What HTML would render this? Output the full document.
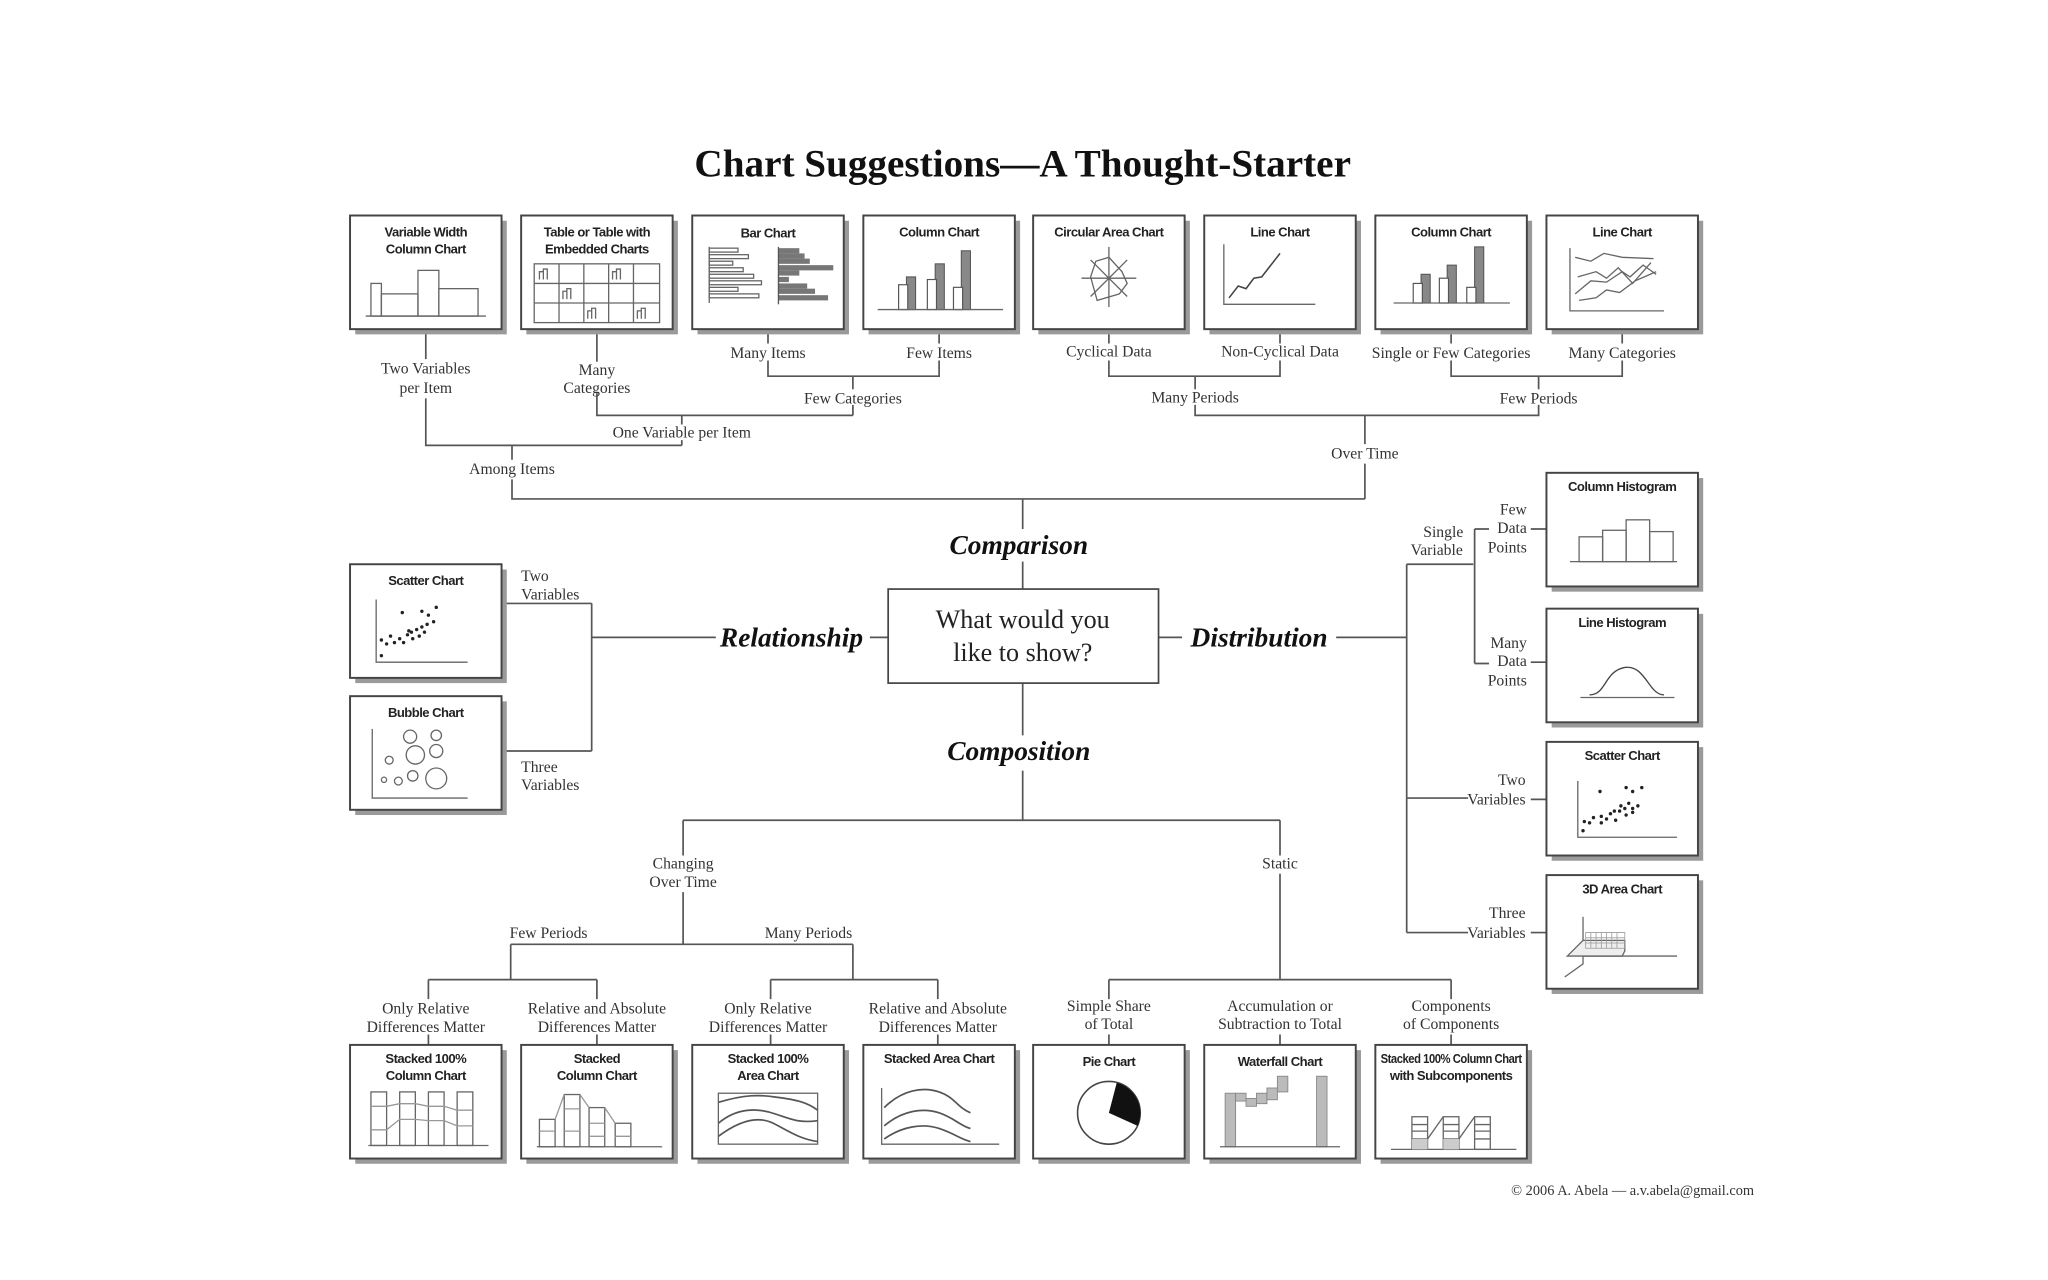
<!DOCTYPE html>
<html><head><meta charset="utf-8"><style>
html,body{margin:0;padding:0;background:#fff;}
svg{display:block;}
.l{stroke:#555;stroke-width:1.3;fill:none;}
.t{font-family:"Liberation Serif",serif;font-size:12px;fill:#333;text-anchor:middle;}
.bt{font-family:"Liberation Sans",sans-serif;font-size:10px;font-weight:bold;fill:#222;text-anchor:middle;letter-spacing:-0.4px;}
.big{font-family:"Liberation Serif",serif;font-size:21px;font-weight:bold;font-style:italic;fill:#111;text-anchor:middle;}
.c{stroke:#666;stroke-width:1;fill:none;}
.g{fill:#888;stroke:#555;stroke-width:0.8;}
.w{fill:#fff;stroke:#555;stroke-width:0.9;}
</style></head><body>
<svg width="2048" height="1280" viewBox="0 0 1568 980" xmlns="http://www.w3.org/2000/svg">
<defs>
<g id="frame"><rect x="4" y="4" width="116" height="87" fill="#9a9a9a"/><rect x="0" y="0" width="116" height="87" fill="#fff" stroke="#444" stroke-width="1.5"/></g>
</defs>
<rect width="1568" height="980" fill="#fff"/>
<text x="783" y="135" font-family="Liberation Serif,serif" font-size="30" font-weight="bold" fill="#111" text-anchor="middle">Chart Suggestions—A Thought-Starter</text>

<!-- connectors top -->
<g class="l">
<path d="M326 252V275M326 305V341H522M522 318V325M522 337V341"/>
<path d="M392 341V352M392 367V382H1045"/>
<path d="M457 252V277M457 301V318H653M653 310V318M653 288V298"/>
<path d="M588 252V263M588 276V288H719V276M719 252V263"/>
<path d="M849 252V263M849 276V288H980V276M980 252V263M915 288V298M915 310V318H1178V310M1178 288V298"/>
<path d="M1111 252V263M1111 276V288H1242V276M1242 252V263"/>
<path d="M1045 318V340M1045 355V382"/>
<path d="M783 382V405M783 430V451"/>
<path d="M783 523V563M783 590V628H523M783 628H980"/>
<path d="M523 628V655M523 683V723H391M523 723H653M391 723V750H328M391 750H457M653 723V750H590M653 750H718"/>
<path d="M980 628V655M980 669V750H849M980 750H1111"/>
<path d="M328 750V765M457 750V765M590 750V765M718 750V765M849 750V765M1111 750V765"/>
<path d="M328 792V800M457 792V800M590 792V800M718 792V800M849 792V800M980 792V800M1111 792V800"/>
<path d="M666 488H680M453 488H548M453 462V575M384 462H453M384 575H453"/>
<path d="M887 488H905M1023 488H1077M1077 432V714M1077 432H1128M1129 405V508M1129 405H1140M1129 508H1140M1172 405H1184M1172 507H1184"/>
<path d="M1077 611H1124M1172 612H1184M1077 714H1124M1172 714H1184"/>
</g>

<!-- labels -->
<g class="t">
<text x="326" y="286">Two Variables</text><text x="326" y="301">per Item</text>
<text x="457" y="287">Many</text><text x="457" y="301">Categories</text>
<text x="588" y="274">Many Items</text><text x="719" y="274">Few Items</text>
<text x="653" y="309">Few Categories</text>
<text x="522" y="335">One Variable per Item</text>
<text x="392" y="363">Among Items</text>
<text x="849" y="273">Cyclical Data</text><text x="980" y="273">Non-Cyclical Data</text>
<text x="1111" y="274">Single or Few Categories</text><text x="1242" y="274">Many Categories</text>
<text x="915" y="308">Many Periods</text><text x="1178" y="309">Few Periods</text>
<text x="1045" y="351">Over Time</text>
<text x="399" y="445" text-anchor="start">Two</text><text x="399" y="459" text-anchor="start">Variables</text>
<text x="399" y="591" text-anchor="start">Three</text><text x="399" y="605" text-anchor="start">Variables</text>
<text x="1105" y="411">Single</text><text x="1100" y="425">Variable</text>
<text x="1169" y="394" text-anchor="end">Few</text><text x="1169" y="408" text-anchor="end">Data</text><text x="1169" y="423" text-anchor="end">Points</text>
<text x="1169" y="496" text-anchor="end">Many</text><text x="1169" y="510" text-anchor="end">Data</text><text x="1169" y="525" text-anchor="end">Points</text>
<text x="1168" y="601" text-anchor="end">Two</text><text x="1168" y="616" text-anchor="end">Variables</text>
<text x="1168" y="703" text-anchor="end">Three</text><text x="1168" y="718" text-anchor="end">Variables</text>
<text x="523" y="665">Changing</text><text x="523" y="679">Over Time</text>
<text x="980" y="665">Static</text>
<text x="420" y="718">Few Periods</text><text x="619" y="718">Many Periods</text>
<text x="326" y="776">Only Relative</text><text x="326" y="790">Differences Matter</text>
<text x="457" y="776">Relative and Absolute</text><text x="457" y="790">Differences Matter</text>
<text x="588" y="776">Only Relative</text><text x="588" y="790">Differences Matter</text>
<text x="718" y="776">Relative and Absolute</text><text x="718" y="790">Differences Matter</text>
<text x="849" y="774">Simple Share</text><text x="849" y="788">of Total</text>
<text x="980" y="774">Accumulation or</text><text x="980" y="788">Subtraction to Total</text>
<text x="1111" y="774">Components</text><text x="1111" y="788">of Components</text>
<text x="1250" y="915" font-size="11">© 2006  A. Abela — a.v.abela@gmail.com</text>
</g>
<text class="big" x="780" y="424">Comparison</text>
<text class="big" x="780" y="582">Composition</text>
<text class="big" x="606" y="495">Relationship</text>
<text class="big" x="964" y="495">Distribution</text>
<rect x="680" y="451" width="207" height="72" fill="#fff" stroke="#444" stroke-width="1.3"/>
<text x="783" y="481" font-family="Liberation Serif,serif" font-size="20" fill="#222" text-anchor="middle">What would you</text>
<text x="783" y="506" font-family="Liberation Serif,serif" font-size="20" fill="#222" text-anchor="middle">like to show?</text>

<!-- TOP ROW -->
<g transform="translate(268,165)"><use href="#frame"/><text class="bt" x="58" y="16">Variable Width</text><text class="bt" x="58" y="29">Column Chart</text>
<g class="c"><path d="M12 77H104"/><rect x="16" y="52" width="8" height="25"/><rect x="24" y="60" width="28" height="17"/><rect x="52" y="42" width="16" height="35"/><rect x="68" y="56" width="30" height="21"/></g></g>
<g transform="translate(399,165)"><use href="#frame"/><text class="bt" x="58" y="16">Table or Table with</text><text class="bt" x="58" y="29">Embedded Charts</text>
<g class="c"><rect x="10" y="37" width="96" height="45"/><path d="M29 37V82M48 37V82M67 37V82M86 37V82M10 52H106M10 67H106"/><path d="M14 49V43h3v6M17 49V41h3v8M32 64V58h3v6M35 64V56h3v8M70 49V43h3v6M73 49V41h3v8M51 79V73h3v6M54 79V71h3v8M89 79V73h3v6M92 79V71h3v8"/></g></g>
<g transform="translate(530,165)"><use href="#frame"/><text class="bt" x="58" y="17">Bar Chart</text>
<g class="c"><path d="M13 24V67"/><rect x="13" y="25" width="22" height="3"/><rect x="13" y="30" width="30" height="3"/><rect x="13" y="35" width="18" height="3"/><rect x="13" y="40" width="26" height="3"/><rect x="13" y="45" width="34" height="3"/><rect x="13" y="50" width="40" height="3"/><rect x="13" y="55" width="22" height="3"/><rect x="13" y="60" width="38" height="3"/></g>
<g fill="#777"><rect x="66" y="25" width="16" height="4"/><rect x="66" y="29" width="20" height="4"/><rect x="66" y="33" width="24" height="4"/><rect x="66" y="38" width="42" height="4"/><rect x="66" y="42" width="16" height="4"/><rect x="66" y="47" width="8" height="4"/><rect x="66" y="52" width="22" height="4"/><rect x="66" y="56" width="28" height="4"/><rect x="66" y="61" width="38" height="4"/><path d="M66 24V68" stroke="#555"/></g></g>
<g transform="translate(661,165)"><use href="#frame"/><text class="bt" x="58" y="16">Column Chart</text>
<g><rect x="33" y="47" width="7" height="25" class="g"/><rect x="27" y="53" width="7" height="19" class="w"/><rect x="55" y="37" width="7" height="35" class="g"/><rect x="49" y="49" width="7" height="23" class="w"/><rect x="75" y="27" width="7" height="45" class="g"/><rect x="69" y="55" width="7" height="17" class="w"/><path d="M11 72H107" class="c"/></g></g>
<g transform="translate(791,165)"><use href="#frame"/><text class="bt" x="58" y="16">Circular Area Chart</text>
<g class="c" stroke="#999"><path d="M58 24V70M37 48H79M44 34L72 62M72 34L44 62"/></g><path d="M48 35L58 32L68 43L72 52L66 60L49 65L44 47Z" class="c" stroke="#444" stroke-width="1.3"/></g>
<g transform="translate(922,165)"><use href="#frame"/><text class="bt" x="58" y="16">Line Chart</text>
<g class="c"><path d="M15 22V68H85"/><path d="M19 63L26 54L32 56L38 48L44 47L58 29" stroke="#444" stroke-width="1.2"/></g></g>
<g transform="translate(1053,165)"><use href="#frame"/><text class="bt" x="58" y="16">Column Chart</text>
<g><rect x="35" y="45" width="7" height="22" class="g"/><rect x="29" y="52" width="7" height="15" class="w"/><rect x="55" y="38" width="7" height="29" class="g"/><rect x="49" y="48" width="7" height="19" class="w"/><rect x="76" y="24" width="7" height="43" class="g"/><rect x="70" y="55" width="7" height="12" class="w"/><path d="M14 67H103" class="c"/></g></g>
<g transform="translate(1184,165)"><use href="#frame"/><text class="bt" x="58" y="16">Line Chart</text>
<g class="c" stroke="#555"><path d="M18 25V73H90"/><path d="M22 32L34 35L44 29L58 32L82 33"/><path d="M24 47L38 43L46 48L55 40L66 52L80 36"/><path d="M22 60L34 50L46 51L58 43L64 47L74 38L84 45"/><path d="M25 65L38 63L46 57L56 59L68 50L84 43"/></g></g>

<!-- LEFT -->
<g transform="translate(268,432)"><use href="#frame"/><text class="bt" x="58" y="16">Scatter Chart</text>
<g class="c"><path d="M20 27V75H90"/></g>
<g fill="#222"><circle cx="24" cy="70" r="1.3"/><circle cx="24" cy="58" r="1.3"/><circle cx="28" cy="61" r="1.3"/><circle cx="31" cy="55" r="1.3"/><circle cx="34" cy="60" r="1.3"/><circle cx="38" cy="57" r="1.3"/><circle cx="41" cy="60" r="1.3"/><circle cx="44" cy="54" r="1.3"/><circle cx="47" cy="52" r="1.3"/><circle cx="48" cy="57" r="1.3"/><circle cx="51" cy="50" r="1.3"/><circle cx="53" cy="55" r="1.3"/><circle cx="55" cy="48" r="1.3"/><circle cx="57" cy="52" r="1.3"/><circle cx="59" cy="46" r="1.3"/><circle cx="40" cy="37" r="1.3"/><circle cx="55" cy="36" r="1.3"/><circle cx="60" cy="39" r="1.3"/><circle cx="64" cy="44" r="1.3"/><circle cx="66" cy="33" r="1.3"/><circle cx="45" cy="51" r="1.3"/></g></g>
<g transform="translate(268,533)"><use href="#frame"/><text class="bt" x="58" y="16">Bubble Chart</text>
<g class="c" stroke="#888"><path d="M17 25V78H90"/><circle cx="46" cy="31" r="5"/><circle cx="66" cy="30" r="4"/><circle cx="50" cy="45" r="7"/><circle cx="66" cy="42" r="5"/><circle cx="30" cy="49" r="3"/><circle cx="26" cy="64" r="2"/><circle cx="37" cy="65" r="3"/><circle cx="48" cy="61" r="4"/><circle cx="66" cy="63" r="8"/></g></g>

<!-- RIGHT -->
<g transform="translate(1184,362)"><use href="#frame"/><text class="bt" x="58" y="14">Column Histogram</text>
<g class="c"><path d="M18 68H100"/><rect x="25" y="49" width="18" height="19"/><rect x="43" y="44" width="18" height="24"/><rect x="61" y="36" width="18" height="32"/><rect x="79" y="45" width="18" height="23"/><rect x="97" y="49" width="0" height="19"/></g></g>
<g transform="translate(1184,466)"><use href="#frame"/><text class="bt" x="58" y="14">Line Histogram</text>
<g class="c"><path d="M26 68H98"/><path d="M33 66C46 66 44 48 60 45C76 43 78 66 90 66" stroke="#444"/></g></g>
<g transform="translate(1184,568)"><use href="#frame"/><text class="bt" x="58" y="14">Scatter Chart</text>
<g class="c"><path d="M24 30V73H100"/></g>
<g fill="#222"><circle cx="28" cy="68" r="1.3"/><circle cx="29" cy="61" r="1.3"/><circle cx="33" cy="62" r="1.3"/><circle cx="36" cy="58" r="1.3"/><circle cx="42" cy="57" r="1.3"/><circle cx="42" cy="62" r="1.3"/><circle cx="46" cy="59" r="1.3"/><circle cx="49" cy="55" r="1.3"/><circle cx="52" cy="53" r="1.3"/><circle cx="53" cy="60" r="1.3"/><circle cx="56" cy="53" r="1.3"/><circle cx="57" cy="49" r="1.3"/><circle cx="60" cy="51" r="1.3"/><circle cx="61" cy="56" r="1.3"/><circle cx="63" cy="47" r="1.3"/><circle cx="66" cy="51" r="1.3"/><circle cx="66" cy="54" r="1.3"/><circle cx="70" cy="49" r="1.3"/><circle cx="41" cy="38" r="1.3"/><circle cx="61" cy="35" r="1.3"/><circle cx="66" cy="38" r="1.3"/><circle cx="73" cy="35" r="1.3"/></g></g>
<g transform="translate(1184,670)"><use href="#frame"/><text class="bt" x="58" y="14">3D Area Chart</text>
<g class="c"><path d="M28 32V68L14 78M28 62H100"/><path d="M16 62L28 50H60V58L58 62Z" fill="#eee"/><path d="M30 44H60V56H30Z M34 44V56M38 44V56M42 44V56M46 44V56M50 44V56M54 44V56M30 48H60M30 52H60" stroke="#999" stroke-width="0.6"/></g></g>

<!-- BOTTOM -->
<g transform="translate(268,800)"><use href="#frame"/><text class="bt" x="58" y="14">Stacked 100%</text><text class="bt" x="58" y="27">Column Chart</text>
<g class="c"><path d="M14 77H106"/><rect x="16" y="36" width="12" height="41"/><rect x="38" y="36" width="12" height="41"/><rect x="60" y="36" width="12" height="41"/><rect x="82" y="36" width="12" height="41"/><path d="M16 47H28L38 45H50L60 47H72L82 50H94M16 65H28L38 57H50L60 58H72L82 62H94" stroke="#999"/></g></g>
<g transform="translate(399,800)"><use href="#frame"/><text class="bt" x="58" y="14">Stacked</text><text class="bt" x="58" y="27">Column Chart</text>
<g class="c"><path d="M12 78H108"/><rect x="14" y="57" width="12" height="21"/><rect x="33" y="38" width="12" height="40"/><rect x="52" y="48" width="12" height="30"/><rect x="72" y="60" width="12" height="18"/><path d="M26 57L33 38M45 38L52 48M64 48L72 60M14 66H26M33 49H45M33 66H45M52 60H64M52 70H64M72 70H84" stroke="#999"/></g></g>
<g transform="translate(530,800)"><use href="#frame"/><text class="bt" x="58" y="14">Stacked 100%</text><text class="bt" x="58" y="27">Area Chart</text>
<g class="c"><rect x="20" y="37" width="76" height="39"/><path d="M20 44C40 38 52 38 64 40C80 42 88 44 96 50M20 60C34 48 50 48 64 53C76 57 82 60 96 58M20 70C36 58 50 54 62 60C74 66 82 72 96 74" stroke="#555" stroke-width="1.3"/></g></g>
<g transform="translate(661,800)"><use href="#frame"/><text class="bt" x="58" y="14">Stacked Area Chart</text>
<g class="c"><path d="M14 33V76H104"/><path d="M16 48C30 34 46 32 58 36C70 40 72 48 82 52M16 62C30 50 46 48 58 52C70 56 74 62 82 64M16 72C30 62 46 60 58 64C70 68 74 72 82 74" stroke="#555" stroke-width="1.3"/></g></g>
<g transform="translate(791,800)"><use href="#frame"/><text class="bt" x="58" y="16">Pie Chart</text>
<circle cx="58" cy="52" r="24" fill="#fff" stroke="#444" stroke-width="1.2"/><path d="M58 52L64 29A24 24 0 0 1 80 62Z" fill="#111"/></g>
<g transform="translate(922,800)"><use href="#frame"/><text class="bt" x="58" y="16">Waterfall Chart</text>
<g fill="#bbb" stroke="#888" stroke-width="0.7"><rect x="16" y="37" width="8" height="41"/><rect x="24" y="37" width="8" height="6"/><rect x="32" y="41" width="8" height="6"/><rect x="40" y="37" width="8" height="8"/><rect x="48" y="33" width="8" height="9"/><rect x="56" y="24" width="8" height="12"/><rect x="86" y="24" width="8" height="54"/></g><path d="M12 78H104" class="c"/></g>
<g transform="translate(1053,800)"><use href="#frame"/><text class="bt" x="58" y="14" textLength="108" lengthAdjust="spacingAndGlyphs" font-size="9.5">Stacked 100% Column Chart</text><text class="bt" x="58" y="27">with Subcomponents</text>
<g class="c" stroke="#888"><path d="M12 80H108"/><rect x="28" y="55" width="12" height="25"/><rect x="52" y="55" width="12" height="25"/><rect x="76" y="55" width="12" height="25"/><path d="M28 61H40M28 66H40M28 72H40M52 61H64M52 66H64M52 72H64M76 61H88M76 66H88M76 72H88M40 72L52 55M64 72L76 55"/></g><g fill="#ccc"><rect x="28" y="72" width="12" height="8"/><rect x="52" y="72" width="12" height="8"/></g></g>
</svg>
</body></html>
